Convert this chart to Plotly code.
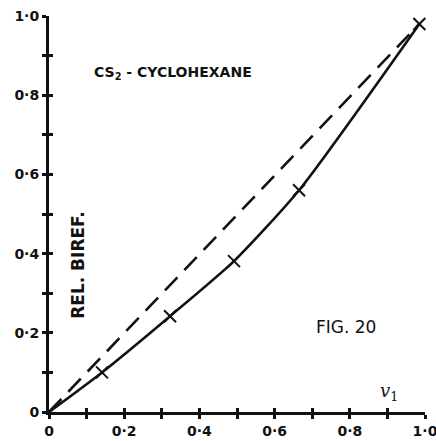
import plotly.graph_objects as go

# Measured relative birefringence of CS2 - cyclohexane mixtures
v1_measured = [0.0, 0.141, 0.322, 0.492, 0.665, 0.985]
biref_measured = [0.0, 0.100, 0.242, 0.381, 0.560, 0.980]

# Additive (ideal mixing) reference line
v1_ideal = [0.0, 0.985]
biref_ideal = [0.0, 0.980]

tick_vals = [0, 0.2, 0.4, 0.6, 0.8, 1.0]
tick_text = ["0", "0·2", "0·4", "0·6", "0·8", "1·0"]
minor_vals = [i / 10 for i in range(11)]

FONT = "DejaVu Sans"
INK = "#111111"

fig = go.Figure()

fig.add_trace(go.Scatter(
    x=v1_ideal, y=biref_ideal, mode="lines",
    line=dict(color=INK, width=2.6, dash="18px,10px"),
    cliponaxis=False, showlegend=False, hoverinfo="skip",
))

fig.add_trace(go.Scatter(
    x=v1_measured, y=biref_measured, mode="lines",
    line=dict(color=INK, width=2.6, shape="spline", smoothing=0.6),
    cliponaxis=False, showlegend=False, hoverinfo="skip",
))

fig.add_trace(go.Scatter(
    x=v1_measured[1:], y=biref_measured[1:], mode="markers",
    marker=dict(symbol="x-thin", size=12, line=dict(color=INK, width=2)),
    cliponaxis=False, showlegend=False, hoverinfo="skip",
))

label_text = [tick_text[i // 2] if i % 2 == 0 else "" for i in range(11)]

axis_common = dict(
    range=[0, 1.0], showgrid=False, zeroline=False, automargin=False,
    showline=True, linecolor=INK, linewidth=3,
    ticks="outside", ticklen=4, tickwidth=2.5, tickcolor=INK,
    tickmode="array", tickvals=minor_vals, ticktext=label_text,
    ticklabeloverflow="allow",
    tickfont=dict(family=FONT, size=14, color=INK, weight="bold"),
)

inner_ticks = dict(
    range=[0, 1.0], showgrid=False, zeroline=False, automargin=False,
    showline=False, ticks="inside", ticklen=4, tickwidth=2.5, tickcolor=INK,
    tickmode="array", tickvals=minor_vals, showticklabels=False,
)

fig.update_layout(
    width=436, height=441,
    margin=dict(l=49, r=11, t=16, b=29),
    paper_bgcolor="white", plot_bgcolor="white",
    xaxis=dict(**axis_common),
    yaxis=dict(**axis_common),
    # second pair of axes gives ticks on the inner side too
    xaxis2=dict(**inner_ticks, overlaying="x", side="bottom", anchor="y"),
    yaxis2=dict(**inner_ticks, overlaying="y", side="left", anchor="x"),
)

# invisible trace to activate the secondary axes
fig.add_trace(go.Scatter(x=[0], y=[0], xaxis="x2", yaxis="y2", mode="markers",
                         marker=dict(opacity=0), showlegend=False, hoverinfo="skip"))

fig.add_annotation(x=0.115, y=0.855, xref="x", yref="y", xanchor="left",
                   text="CS<sub>2</sub> - CYCLOHEXANE", showarrow=False,
                   font=dict(family=FONT, size=14, color=INK, weight="bold"))
fig.add_annotation(x=0.078, y=0.37, xref="x", yref="y", textangle=-90,
                   text="REL. BIREF.", showarrow=False,
                   font=dict(family=FONT, size=17, color=INK, weight="bold"))
fig.add_annotation(x=0.79, y=0.215, xref="x", yref="y",
                   text="FIG. 20", showarrow=False,
                   font=dict(family=FONT, size=17, color=INK))
fig.add_annotation(x=0.905, y=0.05, xref="x", yref="y",
                   text="<i>v</i><sub>1</sub>", showarrow=False,
                   font=dict(family="DejaVu Serif", size=18, color=INK))

fig.write_html("out.html")
